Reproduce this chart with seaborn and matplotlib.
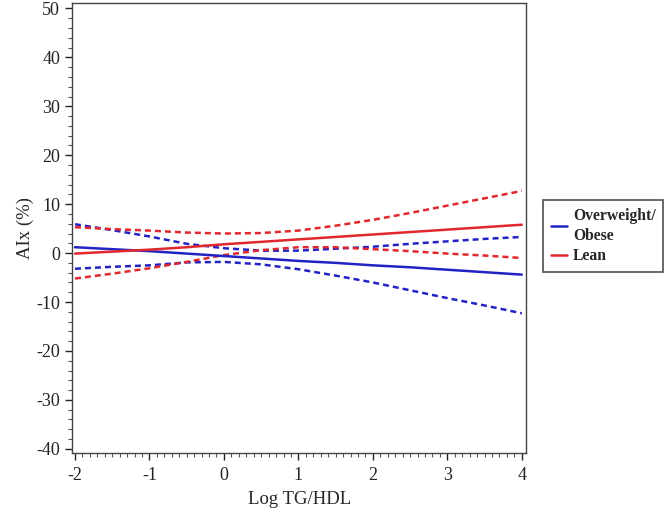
import seaborn as sns
import pandas as pd
import matplotlib.pyplot as plt
from matplotlib.ticker import MultipleLocator

# values
log_tg_hdl = [-2, -1.5, -1, -0.5, 0, 0.5, 1, 1.5, 2, 2.5, 3, 3.5, 4]

obese_fit = [1.2, 0.8, 0.4, -0.1, -0.6, -1.1, -1.6, -2.0, -2.5, -2.9, -3.4, -3.9, -4.4]
obese_upper = [5.9, 4.7, 3.4, 1.9, 1.0, 0.5, 0.5, 0.9, 1.3, 1.9, 2.4, 2.9, 3.3]
obese_lower = [-3.2, -2.8, -2.5, -1.9, -1.8, -2.3, -3.3, -4.6, -6.0, -7.6, -9.2, -10.7, -12.3]

lean_fit = [-0.1, 0.3, 0.7, 1.2, 1.8, 2.3, 2.8, 3.3, 3.8, 4.3, 4.8, 5.3, 5.8]
lean_upper = [5.3, 4.9, 4.6, 4.2, 4.0, 4.1, 4.6, 5.6, 6.8, 8.2, 9.7, 11.2, 12.7]
lean_lower = [-5.2, -4.2, -3.1, -1.8, -0.4, 0.6, 1.2, 1.2, 0.8, 0.4, -0.1, -0.5, -1.0]

blue = "#2323c4"
red = "#e0282e"

sns.set_style("ticks")
plt.rcParams['font.family'] = ['Liberation Serif', 'DejaVu Serif']
plt.rcParams['axes.unicode_minus'] = False

fig = plt.figure(figsize=(6.67, 5.15), dpi=100)
ax = fig.add_axes([0.108, 0.120, 0.681, 0.874])

series = [
    (obese_upper, blue, "dash"),
    (obese_lower, blue, "dash"),
    (lean_upper, red, "dash"),
    (lean_lower, red, "dash"),
    (obese_fit, blue, "Overweight/\nObese"),
    (lean_fit, red, "Lean"),
]
for vals, col, name in series:
    df = pd.DataFrame({"x": log_tg_hdl, "y": vals})
    if name == "dash":
        sns.lineplot(data=df, x="x", y="y", ax=ax, color=col, lw=1.8,
                     dashes=False, linestyle=(0, (2.4, 1.6)))
    else:
        sns.lineplot(data=df, x="x", y="y", ax=ax, color=col, lw=1.8, label=name)

ax.set_xlim(-2.04, 4.06)
ax.set_ylim(-40.9, 51.1)
ax.xaxis.set_major_locator(MultipleLocator(1))
ax.xaxis.set_minor_locator(MultipleLocator(0.1))
ax.yaxis.set_major_locator(MultipleLocator(10))
ax.yaxis.set_minor_locator(MultipleLocator(2))
ax.tick_params(which="major", direction="out", length=5, width=1, labelsize=13, colors="#222222")
ax.tick_params(which="minor", direction="out", length=3, width=0.8, colors="#555555")
ax.tick_params(axis="x", pad=5)
for s in ax.spines.values():
    s.set_visible(True)
    s.set_color("#444444")
    s.set_linewidth(1)

ax.set_xlabel("Log TG/HDL", fontsize=13.5, labelpad=5)
ax.set_ylabel("AIx (%)", fontsize=13.5, labelpad=2)

leg = ax.legend(loc="center left", bbox_to_anchor=(543 / 667, 1 - 236 / 515),
                bbox_transform=fig.transFigure, frameon=True, fancybox=False,
                borderaxespad=0, prop={"weight": "bold", "size": 11.3},
                handlelength=1.0, handletextpad=0.4, borderpad=0.5,
                labelspacing=0.3)
leg.get_texts()[0].set_linespacing(1.35)
leg.get_frame().set_edgecolor("#222222")
leg.get_frame().set_linewidth(1.2)

fig.savefig("out.png", dpi=100)
